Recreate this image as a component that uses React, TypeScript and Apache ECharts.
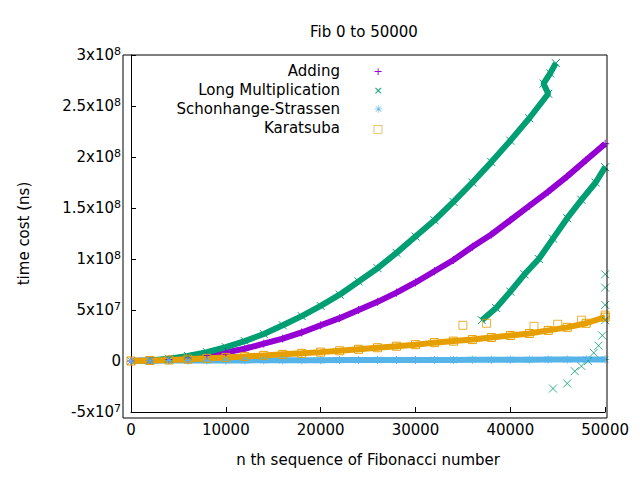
import { useEffect, useRef } from "react";
import * as echarts from "echarts";

// x positions step 2000
const steps = Array.from({ length: 26 }, (_, i) => i * 2000);
const adding = [0, 0.4, 1.4, 3.1, 5.5, 8.5, 12, 17, 22, 28, 35, 42, 50, 58, 67, 77, 88, 99, 112, 124, 138, 152, 166, 181, 197, 213];
const longMul = [0, 0.5, 2.2, 4.9, 8.7, 13.5, 19.5, 26.5, 35, 44, 54, 65, 78, 91, 106, 122, 138, 156, 175, 195, 216, 238, 262];
const longMulEnd: [number, number][] = [[43500, 272], [44200, 282], [44800, 292]];
const longMulB: [number, number][] = [[37000, 40], [38500, 52], [40000, 68], [41500, 85], [43000, 100], [44500, 120], [46000, 140], [47500, 158], [49000, 175], [50000, 190]];
const longMulC: [number, number][] = [[44500, -27], [46000, -22], [46800, -10], [47500, -5], [48200, 0], [48800, 8], [49300, 15], [49700, 25], [50000, 40], [50000, 55], [50000, 72], [50000, 85]];
const schon = [0, 0.3, 0.4, 0.5, 0.5, 0.6, 0.6, 0.7, 0.7, 0.8, 0.8, 0.9, 0.9, 1, 1, 1, 1.1, 1.1, 1.2, 1.2, 1.3, 1.3, 1.4, 1.4, 1.5, 1.5];
const karatsuba = [0, 0.5, 1, 1.8, 2.6, 3.5, 4.5, 5.5, 6.5, 7.5, 8.7, 10, 11.5, 13, 14.5, 16, 18, 19.5, 21, 23, 25, 27, 30, 33, 37, 43];
const karatsubaOut: [number, number][] = [[35000, 35], [37500, 37], [42500, 34], [45000, 36], [47500, 40], [50000, 45]];
const legendNames = ["Adding", "Long Multiplication", "Schonhange-Strassen", "Karatsuba"];
const colors = ["#9400d3", "#009e73", "#56b4e9", "#e69f00"];
const legendGlyphs = ["+", "×", "✳", "□"];

const FONT = "DejaVu Sans";
const PLUS = "path://M0,5L10,5M5,0L5,10";
const CROSS = "path://M0,0L10,10M0,10L10,0";
const STAR = "path://M0,5L10,5M5,0L5,10M1,1L9,9M1,9L9,1";
const SQUARE = "path://M0,0L10,0L10,10L0,10Z";

const pts = (vals: number[], xs: number[]) => vals.map((v, i) => [xs[i], v * 1e6]);
const scaleP = (p: [number, number][]) => p.map(([x, y]) => [x, y * 1e6]);

const fmtY = (v: number) => {
  if (v === 0) return "0";
  const e = Math.floor(Math.log10(Math.abs(v)));
  const m = +(v / Math.pow(10, e)).toFixed(2);
  return `${m}x10{s|${e}}`;
};

const series = (name: string, data: number[][], color: string, symbol: string, line: boolean) => ({
  name,
  type: line ? "line" : "scatter",
  data,
  symbol,
  symbolSize: 8,
  showSymbol: true,
  lineStyle: { color, width: 6 },
  itemStyle: { color: "none", borderColor: color, borderWidth: 1 },
  z: 2,
});

const App = () => {
  const ref = useRef<HTMLDivElement>(null);
  useEffect(() => {
    if (!ref.current) return;
    const chart = echarts.init(ref.current, undefined, { renderer: "svg" });
    chart.setOption({
      animation: false,
      backgroundColor: "#fff",
      textStyle: { fontFamily: FONT },
      title: { text: "Fib 0 to 50000", left: 297, top: 11, textStyle: { fontFamily: FONT, fontSize: 15, fontWeight: "normal", color: "#000" } },
      grid: { left: 115, right: 25, top: 47, bottom: 54 },
      xAxis: {
        type: "value", min: 0, max: 50000, interval: 10000,
        name: "n th sequence of Fibonacci number", nameLocation: "middle", nameGap: 40,
        nameTextStyle: { fontFamily: FONT, fontSize: 15, color: "#000" },
        axisLine: { show: true, onZero: false, lineStyle: { color: "#000" } },
        axisTick: { inside: true, lineStyle: { color: "#000" } },
        axisLabel: { fontFamily: FONT, fontSize: 15, color: "#000", margin: 10, formatter: (v: number) => String(v) },
        splitLine: { show: false },
      },
      yAxis: {
        type: "value", min: -5e7, max: 3e8, interval: 5e7,
        name: "time cost (ns)", nameLocation: "middle", nameGap: 100,
        nameTextStyle: { fontFamily: FONT, fontSize: 15, color: "#000" },
        axisLine: { show: true, onZero: false, lineStyle: { color: "#000" } },
        axisTick: { inside: true, lineStyle: { color: "#000" } },
        axisLabel: { fontFamily: FONT, fontSize: 15, color: "#000", margin: 10, formatter: fmtY, rich: { s: { fontSize: 11, verticalAlign: "top", padding: [0, 0, 8, 0] } } },
        splitLine: { show: false },
      },
      graphic: [
        { type: "rect", shape: { x: 115, y: 47, width: 484, height: 363 }, style: { fill: "none", stroke: "#000", lineWidth: 1 }, z: 10 },
        ...legendNames.map((n, i) => ({ type: "text", x: 332, y: 63 + i * 19, style: { text: n, fill: "#000", font: `15px "${FONT}"`, align: "right", verticalAlign: "middle" }, z: 11 })),
        ...legendGlyphs.map((g, i) => ({ type: "text", x: 370, y: 63 + i * 19, style: { text: g, fill: colors[i], font: `11px "${FONT}"`, align: "center", verticalAlign: "middle" }, z: 11 })),
      ],
      series: [
        series("Adding", pts(adding, steps), colors[0], PLUS, true),
        series("Long Multiplication", [...pts(longMul, steps), ...scaleP(longMulEnd)], colors[1], CROSS, true),
        series("Long Multiplication B", scaleP(longMulB), colors[1], CROSS, true),
        series("Long Multiplication C", scaleP(longMulC), colors[1], CROSS, false),
        series("Schonhange-Strassen", pts(schon, steps), colors[2], STAR, true),
        series("Karatsuba", pts(karatsuba, steps), colors[3], SQUARE, true),
        series("Karatsuba outliers", scaleP(karatsubaOut), colors[3], SQUARE, false),
      ],
    });
    return () => chart.dispose();
  }, []);
  return <div ref={ref} style={{ width: 624, height: 464 }} />;
};

export default App;
